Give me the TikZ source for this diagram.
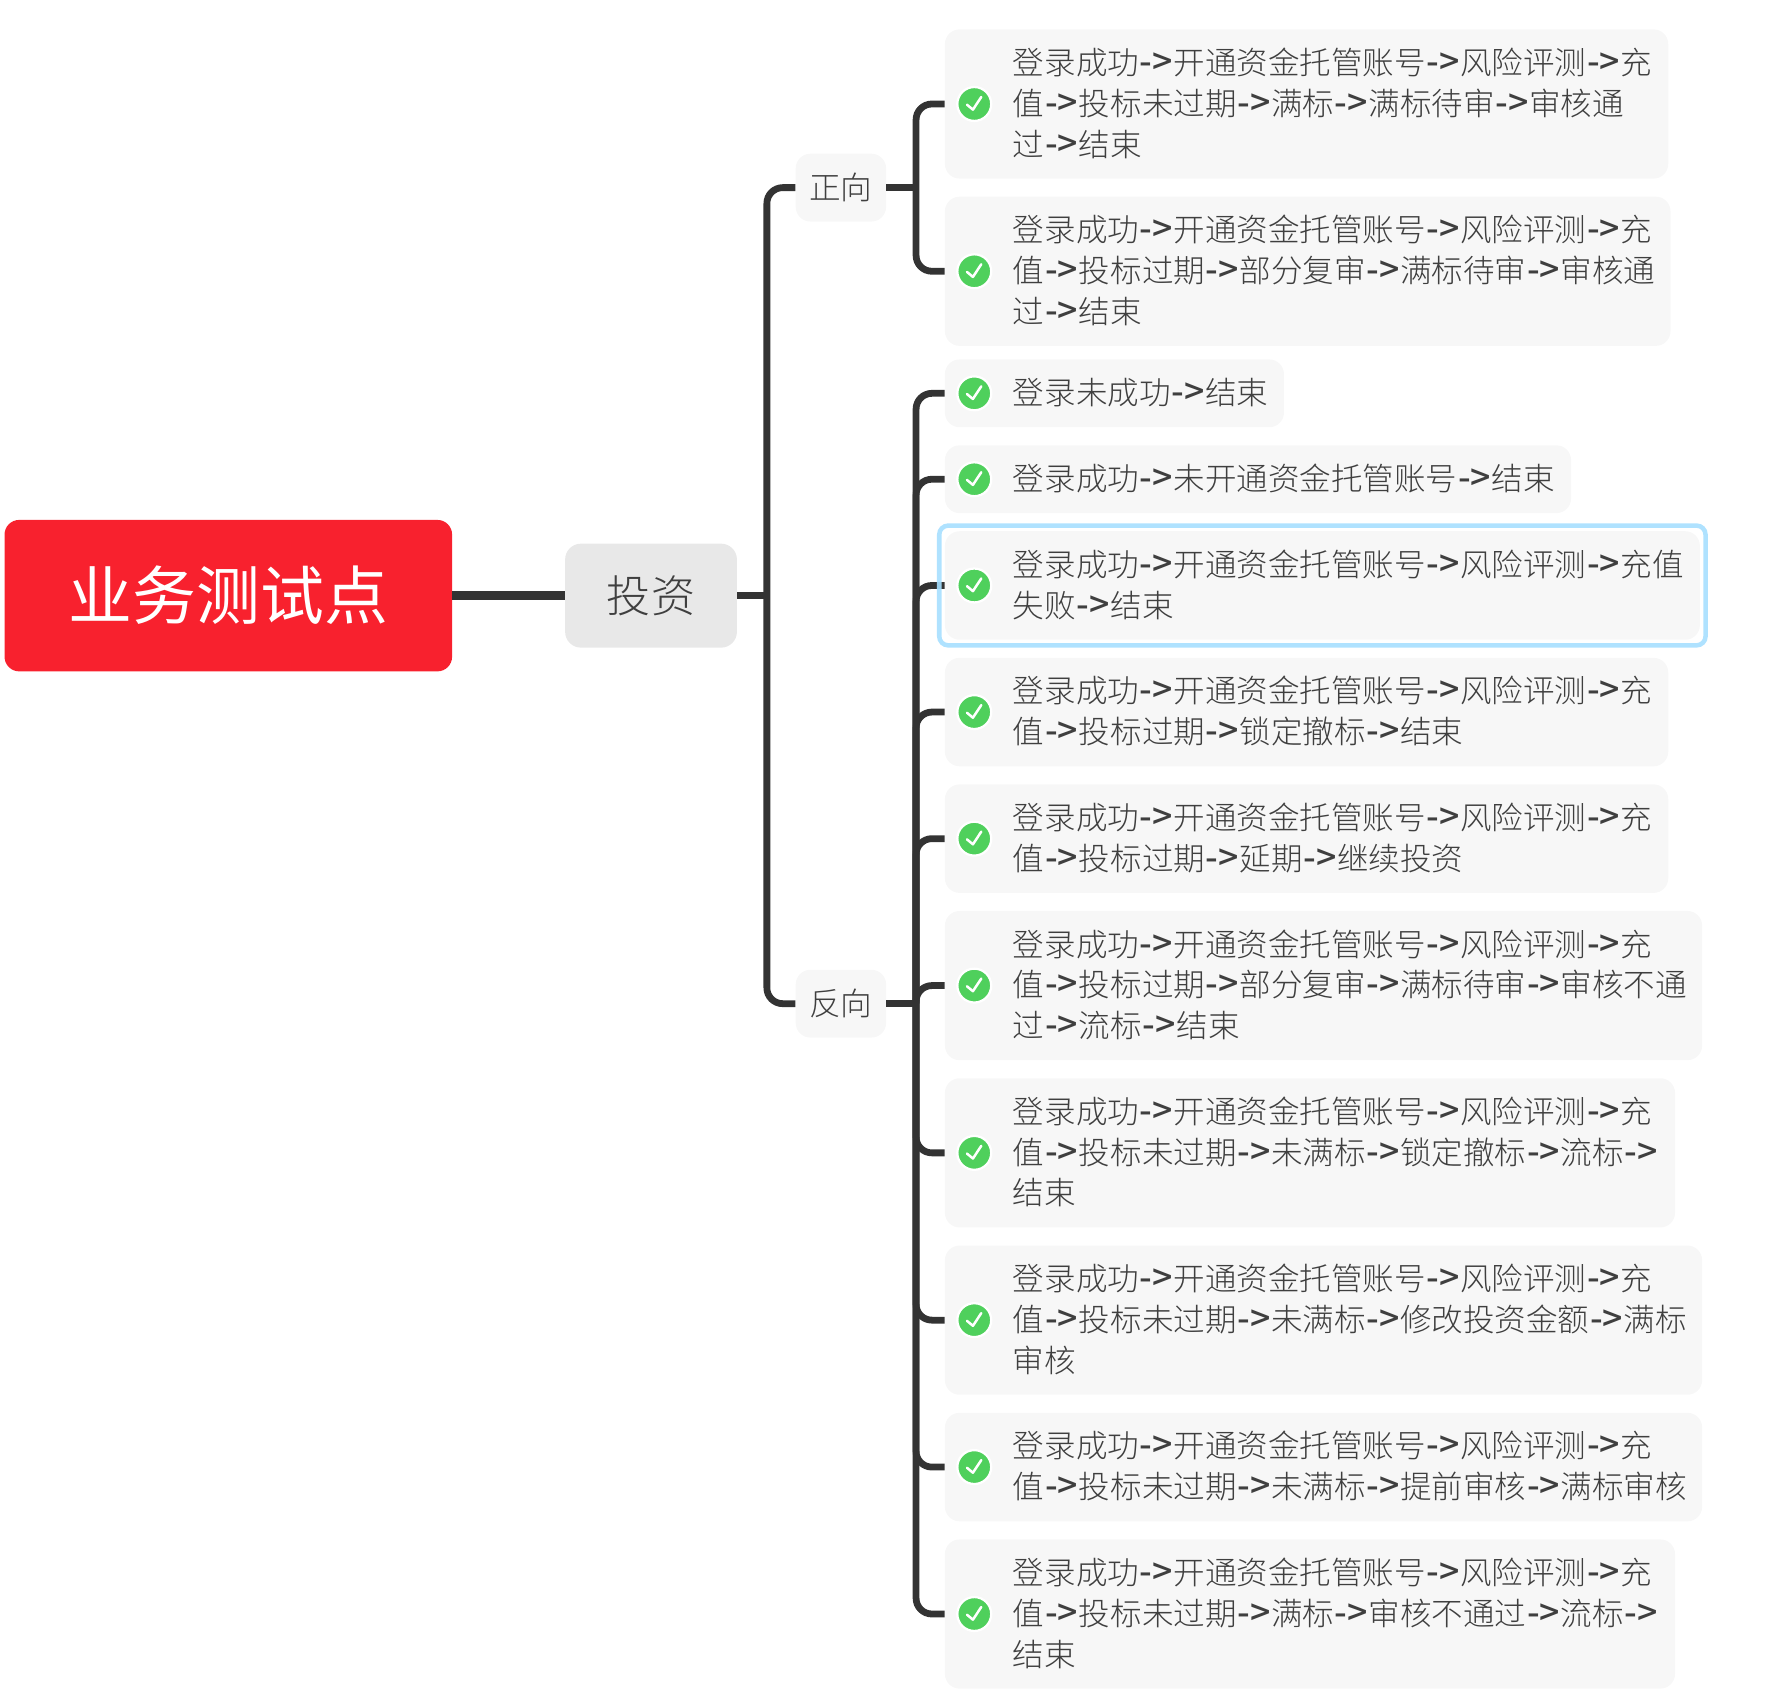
\documentclass[tikz,border=0pt]{standalone}
\usepackage{fontspec}
\setmainfont{Noto Sans CJK SC Light}
\newfontfamily\arrowfont{Noto Sans CJK SC Medium}
\newfontfamily\rootfont{Noto Sans CJK SC}
\newcommand{\ar}{\hbox to 30.5pt{\hss{\arrowfont\fontsize{31.5}{36}\selectfont ->}\hss}}
\newcommand{\itemnode}[6]{% name x0 x1 y0 y1 text
  \node[itembox,minimum width=#3pt-#2pt,minimum height=#5pt-#4pt] (b#1) at ({(#2+#3)/2},{(#4+#5)/2}) {};
  \node[itemtext] (t#1) at (896,{(#4+#5)/2-0.7}) {#6};
  \node[okicon] (c#1) at (862,{(#4+#5)/2}) {};
  \draw[tick] (855.5,{(#4+#5)/2+0.6}) -- (860.8,{(#4+#5)/2+5}) -- (868.2,{(#4+#5)/2-6.2});
}
\definecolor{itemgray}{HTML}{F7F7F7}
\definecolor{txt}{HTML}{3F3F3F}
\definecolor{linecol}{HTML}{333333}
\definecolor{okgreen}{HTML}{4FD05C}
\definecolor{rootred}{HTML}{F8212E}
\definecolor{selblue}{HTML}{A6DFFF}
\definecolor{invest}{HTML}{E8E8E8}
\tikzset{
  x=1pt,y=-1pt,
  itembox/.style={fill=itemgray,draw=none,rounded corners=13pt,inner sep=0pt},
  itemtext/.style={anchor=west,inner sep=0pt,align=left,text=txt,font=\fontsize{27.9}{36}\selectfont},
  okicon/.style={circle,fill=okgreen,draw=white,line width=2pt,minimum size=30pt,inner sep=0pt},
  tick/.style={draw=white,line width=2.2pt,line cap=round,line join=round},
  conn/.style={draw=linecol,line width=6pt,line join=round,rounded corners=14pt},
  midbox/.style={fill=itemgray,rounded corners=13pt,minimum width=80pt,minimum height=60pt,inner sep=0pt,text=txt,font=\fontsize{28}{34}\selectfont},
}
\begin{document}
\begin{tikzpicture}
\useasboundingbox (0,0) rectangle (1567.8,1493.5);
% structure nodes
\node[fill=rootred,rounded corners=13pt,minimum width=396pt,minimum height=134pt,inner sep=0pt,text=white,font=\rootfont\fontsize{56.5}{60}\selectfont] (root) at (202,527) {\raisebox{1.5pt}{业务测试点}};
\node[fill=invest,rounded corners=14pt,minimum width=152pt,minimum height=92pt,inner sep=0pt,text=txt,font=\fontsize{39}{44}\selectfont] (inv) at (576,527) {\raisebox{1pt}{投资}};
\node[midbox] (pos) at (744,166) {正向};
\node[midbox] (neg) at (744,888) {反向};
\coordinate (tr) at (678.5,527);
\coordinate (p1) at (810.5,166);
\coordinate (n1) at (810.5,888);
% item nodes
\itemnode{1}{836}{1476}{26}{158}{登录成功\ar 开通资金托管账号\ar 风险评测\ar 充\\值\ar 投标未过期\ar 满标\ar 满标待审\ar 审核通\\过\ar 结束}
\itemnode{2}{836}{1478}{174}{306}{登录成功\ar 开通资金托管账号\ar 风险评测\ar 充\\值\ar 投标过期\ar 部分复审\ar 满标待审\ar 审核通\\过\ar 结束}
\itemnode{3}{836}{1136}{318}{378}{登录未成功\ar 结束}
\itemnode{4}{836}{1390}{394}{454}{登录成功\ar 未开通资金托管账号\ar 结束}
\itemnode{5}{836}{1504}{470}{566}{登录成功\ar 开通资金托管账号\ar 风险评测\ar 充值\\失败\ar 结束}
\itemnode{6}{836}{1476}{582}{678}{登录成功\ar 开通资金托管账号\ar 风险评测\ar 充\\值\ar 投标过期\ar 锁定撤标\ar 结束}
\itemnode{7}{836}{1476}{694}{790}{登录成功\ar 开通资金托管账号\ar 风险评测\ar 充\\值\ar 投标过期\ar 延期\ar 继续投资}
\itemnode{8}{836}{1506}{806}{938}{登录成功\ar 开通资金托管账号\ar 风险评测\ar 充\\值\ar 投标过期\ar 部分复审\ar 满标待审\ar 审核不通\\过\ar 流标\ar 结束}
\itemnode{9}{836}{1482}{954}{1086}{登录成功\ar 开通资金托管账号\ar 风险评测\ar 充\\值\ar 投标未过期\ar 未满标\ar 锁定撤标\ar 流标\ar \\结束}
\itemnode{10}{836}{1506}{1102}{1234}{登录成功\ar 开通资金托管账号\ar 风险评测\ar 充\\值\ar 投标未过期\ar 未满标\ar 修改投资金额\ar 满标\\审核}
\itemnode{11}{836}{1506}{1250}{1346}{登录成功\ar 开通资金托管账号\ar 风险评测\ar 充\\值\ar 投标未过期\ar 未满标\ar 提前审核\ar 满标审核}
\itemnode{12}{836}{1482}{1362}{1494}{登录成功\ar 开通资金托管账号\ar 风险评测\ar 充\\值\ar 投标未过期\ar 满标\ar 审核不通过\ar 流标\ar \\结束}
% connectors
\draw[draw=linecol,line width=8pt] (root.east) -- (inv.west);
\draw[conn] (inv.east) -- (tr);
\draw[conn] (pos.west) -| (tr) |- (neg.west);
\draw[conn] (pos.east) -- (p1);
\draw[conn] (b1.west) -| (p1) |- (b2.west);
\draw[conn] (neg.east) -- (n1);
\draw[conn] (b3.west) -| (n1) |- (b12.west);
\draw[conn] (b4.west) -| (n1);
\draw[conn] (b5.west) -| (n1);
\draw[conn] (b6.west) -| (n1);
\draw[conn] (b7.west) -| (n1);
\draw[conn] (b8.west) -| (n1);
\draw[conn] (b9.west) -| (n1);
\draw[conn] (b10.west) -| (n1);
\draw[conn] (b11.west) -| (n1);
\node[draw=selblue,line width=4pt,rounded corners=8pt,minimum width=678pt,minimum height=106pt,inner sep=0pt,opacity=.9] (sel) at (1170,518) {};
\end{tikzpicture}
\end{document}
